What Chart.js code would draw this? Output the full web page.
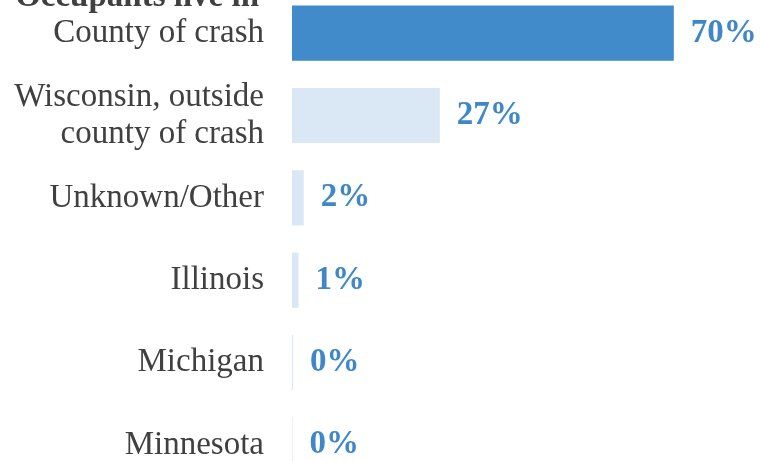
<!DOCTYPE html>
<html>
<head>
<meta charset="utf-8">
<script src="https://cdn.jsdelivr.net/npm/chart.js@4"></script>
<style>
  html, body { margin: 0; padding: 0; background: #fff; }
  body { width: 760px; height: 461px; overflow: hidden; position: relative; }
  #wrap { position: absolute; left: 0; top: -8px; width: 760px; height: 494px; }
</style>
</head>
<body>
<div id="wrap"><canvas id="chart"></canvas></div>
<script>
'use strict';

// ── Data ────────────────────────────────────────────────────────────
const TITLE = 'Occupants live in';
const categories = [
  'County of crash',
  ['Wisconsin, outside', 'county of crash'],
  'Unknown/Other',
  'Illinois',
  'Michigan',
  'Minnesota',
];
const sharePct = [70, 27.1, 2.15, 1.2, 0.2, 0.1];

// ── Styling ─────────────────────────────────────────────────────────
const FONT = "'Liberation Serif', 'Times New Roman', serif";
const DARK_BLUE = '#418BCA';
const LIGHT_BLUE = '#DAE7F4';
const LABEL_BLUE = '#3F87C7';
const TEXT_GREY = '#404040';
const TICK_PAD = 28;

// value labels next to each bar + the cut-off heading above the labels
const barLabels = {
  id: 'barLabels',
  afterDatasetsDraw(chart) {
    const ctx = chart.ctx;
    const meta = chart.getDatasetMeta(0);
    ctx.save();
    ctx.font = `bold 33px ${FONT}`;
    ctx.fillStyle = LABEL_BLUE;
    ctx.textAlign = 'left';
    ctx.textBaseline = 'middle';
    meta.data.forEach((bar, i) => {
      ctx.fillText(`${Math.round(sharePct[i])}%`, bar.x + 17, bar.y);
    });

    ctx.fillStyle = TEXT_GREY;
    ctx.textAlign = 'right';
    ctx.textBaseline = 'alphabetic';
    const y0 = chart.scales.y.getPixelForValue(0);
    ctx.fillText(TITLE, chart.chartArea.left - TICK_PAD - 5, y0 - 27);
    ctx.restore();
  },
};

new Chart(document.getElementById('chart'), {
  type: 'bar',
  data: {
    labels: categories,
    datasets: [{
      data: sharePct,
      backgroundColor: sharePct.map((_, i) => (i === 0 ? DARK_BLUE : LIGHT_BLUE)),
      borderWidth: 0,
      barPercentage: 0.67,
      categoryPercentage: 1,
    }],
  },
  options: {
    indexAxis: 'y',
    responsive: true,
    maintainAspectRatio: false,
    animation: false,
    layout: { padding: 0 },
    scales: {
      x: {
        display: false,
        min: 0,
        max: 85.8,
      },
      y: {
        grid: { display: false, drawTicks: false },
        border: { display: false },
        ticks: {
          color: TEXT_GREY,
          padding: TICK_PAD,
          font: { family: FONT, size: 33, lineHeight: 1.12 },
        },
        afterFit(scale) {
          scale.width = 292;
          scale.paddingTop = 0;
          scale.paddingBottom = 0;
        },
      },
    },
    plugins: {
      legend: { display: false },
      tooltip: { enabled: false },
    },
  },
  plugins: [barLabels],
});
</script>
</body>
</html>
